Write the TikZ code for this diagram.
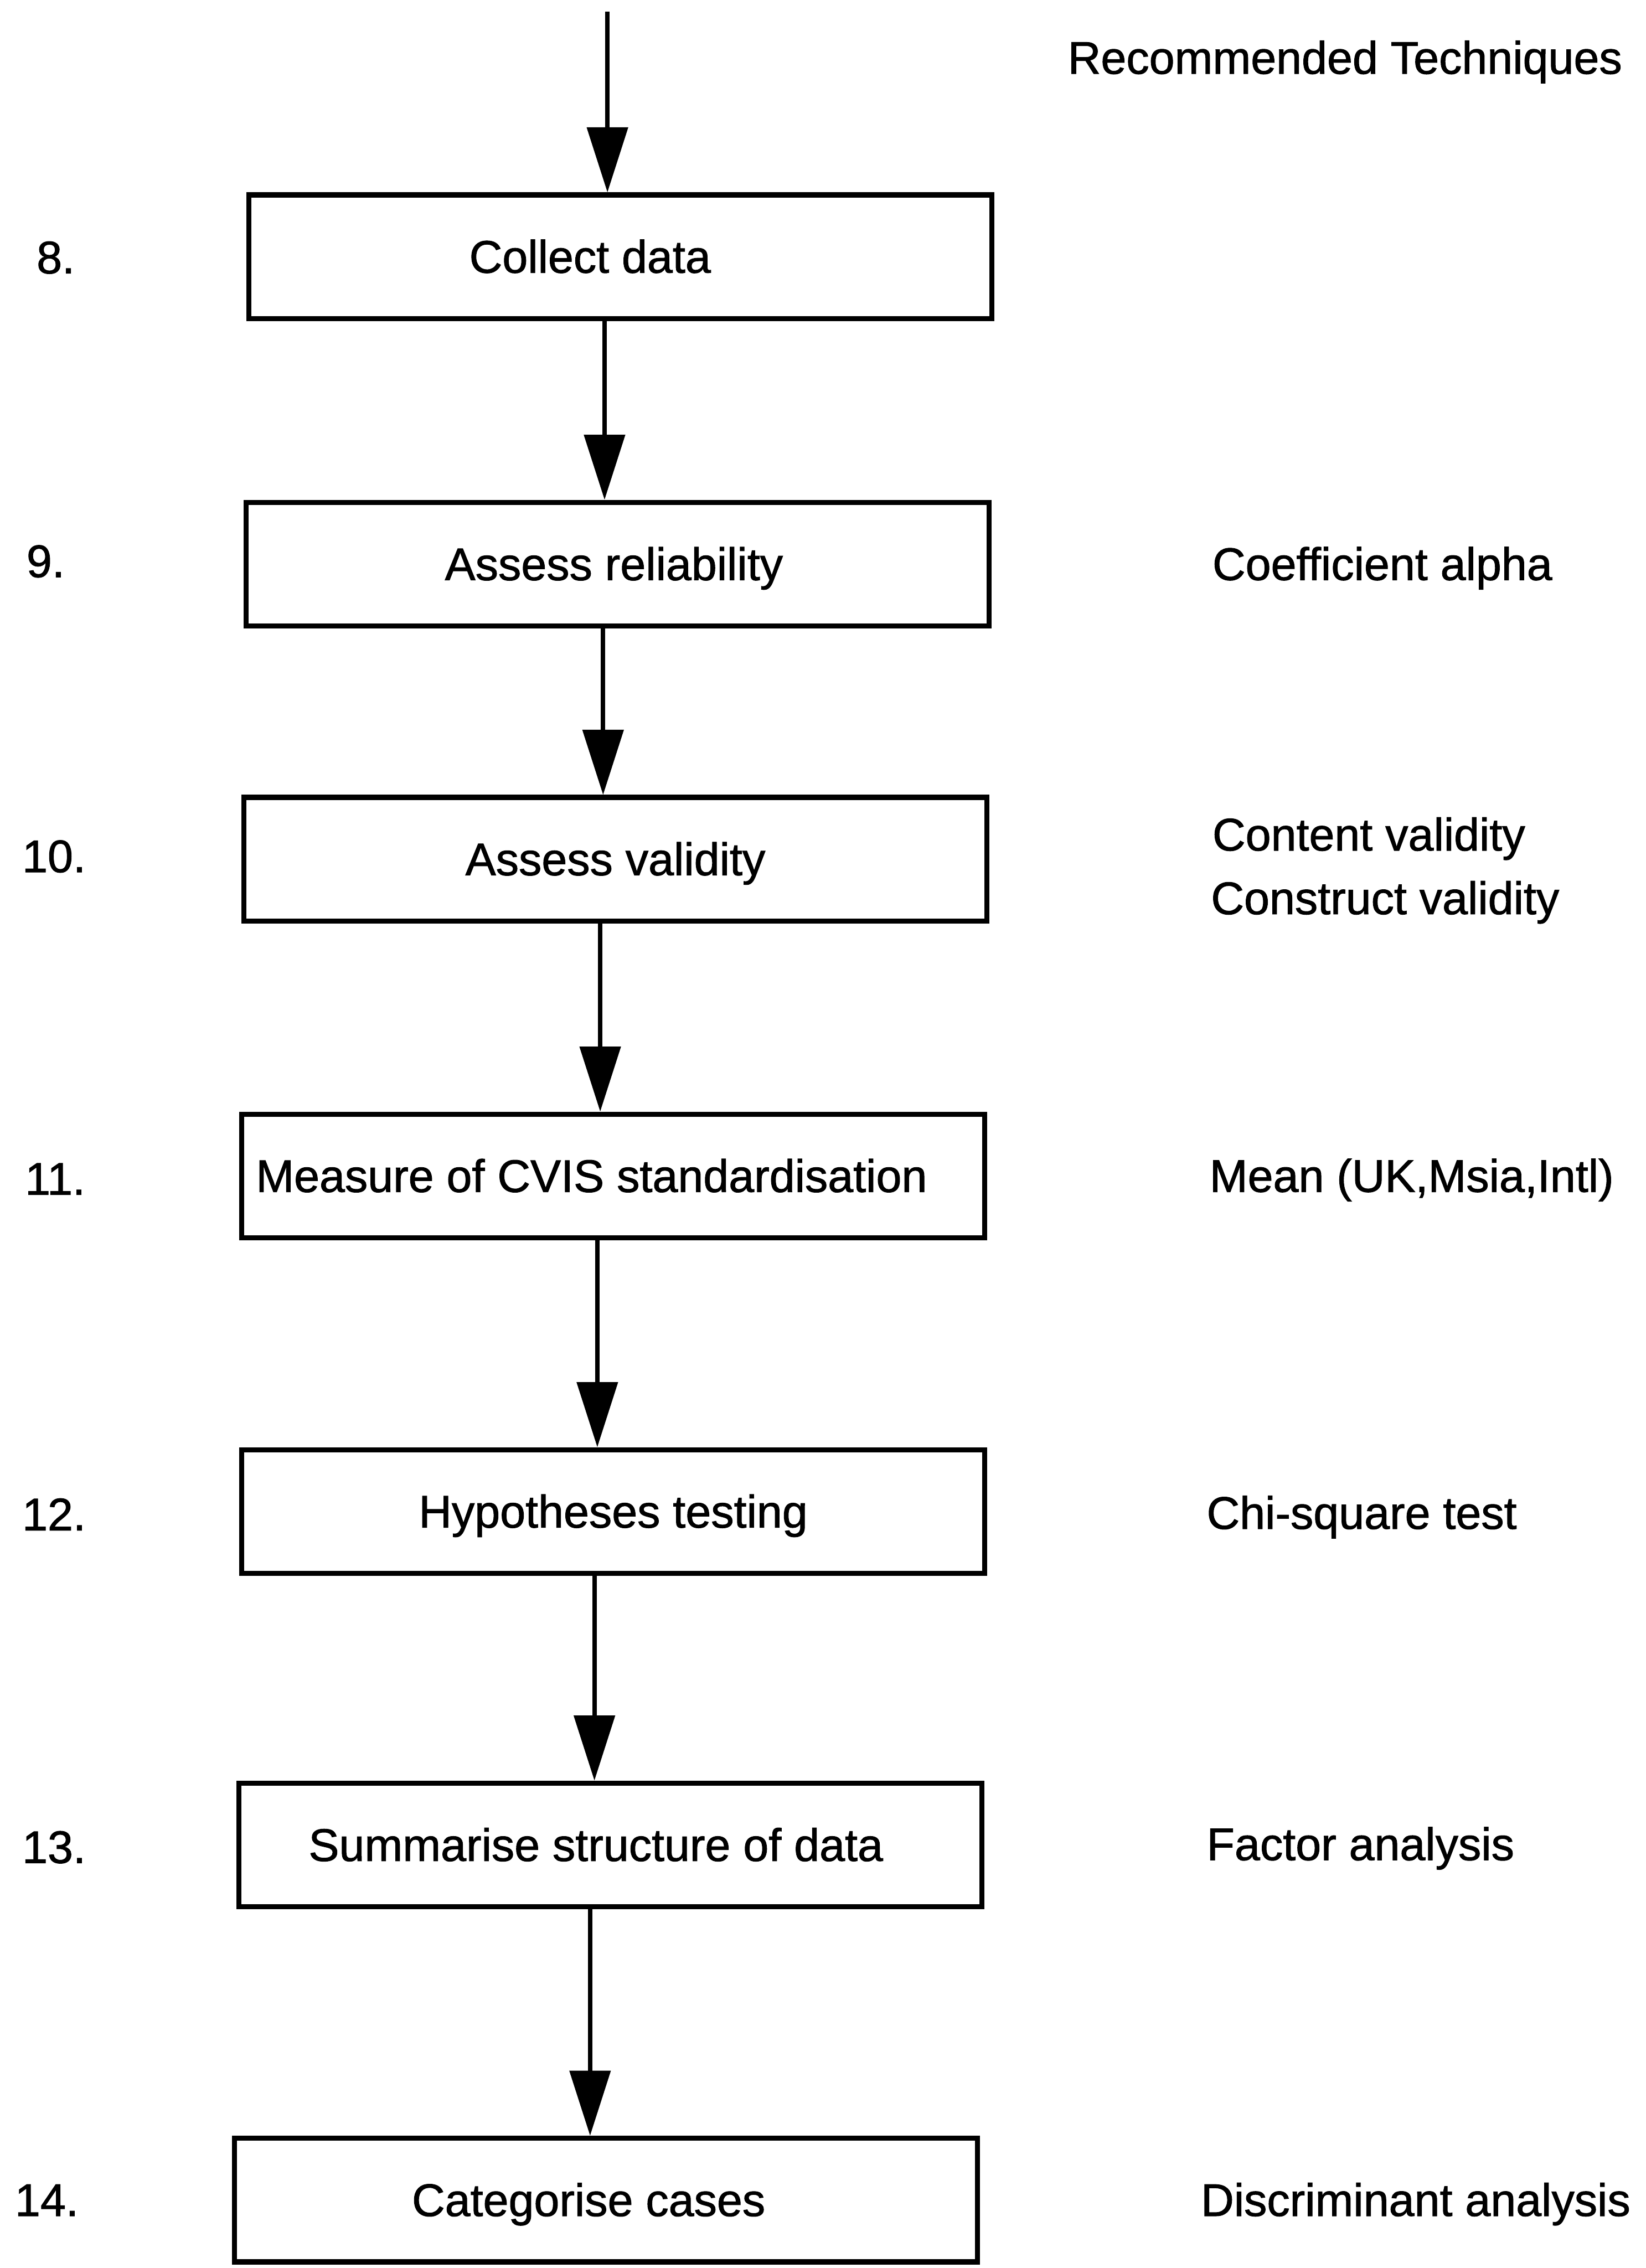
\documentclass[tikz,border=0pt]{standalone}
\usepackage{fontspec}
\setmainfont{Liberation Sans}[BoldFont=Liberation Sans,BoldFeatures={FakeBold=1.2}]
\usetikzlibrary{arrows.meta}

\begin{document}
\begin{tikzpicture}[x=0.02cm,y=-0.02cm,
  stepbox/.style={rectangle,draw,line width=2pt,minimum width=10.28cm,minimum height=1.71cm,inner sep=0pt,text height=12.6pt,text depth=0pt,font=\fontsize{18}{21.6}\selectfont\bfseries},
  stepno/.style={anchor=base west,inner sep=0pt,font=\fontsize{18}{21.6}\selectfont\bfseries},
  technique/.style={anchor=base west,inner sep=0pt,font=\fontsize{18}{21.6}\selectfont\bfseries},
  flow/.style={-{Triangle[length=0.9cm,width=0.56cm]},line width=1.7pt}]
\useasboundingbox (0,0) rectangle (1138,1568);

% Steps - plain boxes down the middle (text sits a little left of centre)
\node[stepbox] (collect) at (429,177.5) {Collect data\hspace*{0.84cm}};
\node[stepbox] (reliability) at (427,390) {Assess reliability\hspace*{0.1cm}};
\node[stepbox] (validity) at (425.5,594) {Assess validity};
\node[stepbox] (cvis) at (424,813) {Measure of CVIS standardisation\hspace*{0.6cm}};
\node[stepbox] (hypotheses) at (424,1045) {Hypotheses testing};
\node[stepbox] (structure) at (422,1275.5) {Summarise structure of data\hspace*{0.4cm}};
\node[stepbox] (categorise) at (419,1521) {Categorise cases\hspace*{0.48cm}};

% Step numbers
\node[stepno] (n8) at (25,189) {8.};
\node[stepno] (n9) at (18,399) {9.};
\node[stepno] (n10) at (15,603) {10.};
\node[stepno] (n11) at (17,826) {11.};
\node[stepno] (n12) at (15,1058) {12.};
\node[stepno] (n13) at (15,1288) {13.};
\node[stepno] (n14) at (10,1532) {14.};

% Techniques column
\node[technique] (heading) at (738,51) {Recommended Techniques};
\node[technique] (alpha) at (838,401) {Coefficient alpha};
\node[technique] (content) at (838,588) {Content validity};
\node[technique] (construct) at (837,632) {Construct validity};
\node[technique] (mean) at (836,824) {Mean (UK,Msia,Intl)};
\node[technique] (chisq) at (834,1057) {Chi-square test};
\node[technique] (factor) at (834,1286) {Factor analysis};
\node[technique] (discrim) at (830,1532) {Discriminant analysis};

% Arrows
\coordinate (start) at (420,8);
\draw[flow] (start) -- (collect.north -| start);
\draw[flow] (collect.south -| 418,0) -- (reliability.north -| 418,0);
\draw[flow] (reliability.south -| 417,0) -- (validity.north -| 417,0);
\draw[flow] (validity.south -| 415,0) -- (cvis.north -| 415,0);
\draw[flow] (cvis.south -| 413,0) -- (hypotheses.north -| 413,0);
\draw[flow] (hypotheses.south -| 411,0) -- (structure.north -| 411,0);
\draw[flow] (structure.south -| 408,0) -- (categorise.north -| 408,0);

\end{tikzpicture}
\end{document}
